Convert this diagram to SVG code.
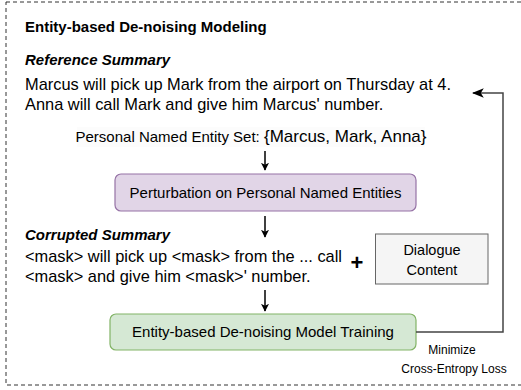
<svg xmlns="http://www.w3.org/2000/svg" width="521" height="390" viewBox="0 0 521 390">
<defs>
<style>
text{font-family:"Liberation Sans",Arial,sans-serif;fill:#000}
.t{font-size:16.4px}
.s{font-size:15px}
.h{font-size:15px;font-weight:bold}
.hi{font-size:15px;font-weight:bold;font-style:italic}
.c{text-anchor:middle}
.ln{fill:none;stroke:#000;stroke-width:1.5}
</style>
<marker id="ah" viewBox="0 0 10 10" refX="9" refY="5" markerWidth="8" markerHeight="8" markerUnits="userSpaceOnUse" orient="auto">
<path d="M0,0 L10,5 L0,10 L2.5,5 Z" fill="#000"/>
</marker>
<marker id="ah2" viewBox="0 0 10 10" refX="9" refY="5" markerWidth="12" markerHeight="12" markerUnits="userSpaceOnUse" orient="auto">
<path d="M0,1 L10,5 L0,9 L2.5,5 Z" fill="#000"/>
</marker>
</defs>
<rect x="6" y="2" width="525" height="383" fill="#fff" stroke="#333" stroke-width="1" stroke-dasharray="4 3"/>
<g id="title"><text class="h" x="25" y="32">Entity-based De-noising Modeling</text></g>
<g id="reference">
<text class="hi" x="25" y="65">Reference Summary</text>
<text class="t" x="25" y="90">Marcus will pick up Mark from the airport on Thursday at 4.</text>
<text class="t" x="25" y="110">Anna will call Mark and give him Marcus' number.</text>
</g>
<g id="entityset">
<rect x="77" y="127" width="348" height="20" fill="#fcfcfc"/>
<text x="251" y="142" class="c"><tspan font-size="15">Personal Named Entity Set: </tspan><tspan font-size="17">{Marcus, Mark, Anna}</tspan></text>
</g>
<g id="perturbation">
<rect x="115" y="174" width="301" height="37" rx="6" fill="#e1d5e7" stroke="#9673a6" stroke-width="1.2"/>
<text class="s c" x="265.5" y="198">Perturbation on Personal Named Entities</text>
</g>
<g id="corrupted">
<text class="hi" x="25" y="240">Corrupted Summary</text>
<text class="t" x="25" y="262">&lt;mask&gt; will pick up &lt;mask&gt; from the ... call</text>
<text class="t" x="25" y="282">&lt;mask&gt; and give him &lt;mask&gt;' number.</text>
</g>
<g id="plus"><text x="357" y="270" class="c" font-size="22" font-weight="bold">+</text></g>
<g id="dialogue">
<rect x="375.5" y="234" width="112.5" height="50" fill="#f5f5f5" stroke="#666" stroke-width="1"/>
<text class="c" font-size="14.5" x="432" y="255">Dialogue</text>
<text class="c" font-size="14.5" x="432" y="275">Content</text>
</g>
<g id="training">
<rect x="110" y="314" width="306" height="36" rx="6" fill="#d5e8d4" stroke="#82b366" stroke-width="1.2"/>
<text class="s c" x="263" y="337">Entity-based De-noising Model Training</text>
</g>
<g id="loss">
<text class="c" x="452" y="354" font-size="12">Minimize</text>
<text class="c" x="454" y="373" font-size="12">Cross-Entropy Loss</text>
</g>
<g id="connectors">
<line class="ln" x1="265" y1="151" x2="265" y2="170" marker-end="url(#ah)"/>
<line class="ln" x1="265" y1="216" x2="265" y2="237" marker-end="url(#ah)"/>
<line class="ln" x1="265" y1="290" x2="265" y2="311" marker-end="url(#ah)"/>
<polyline points="416,332 503,332 503,93 473,93" fill="none" stroke="#444" stroke-width="1.5" marker-end="url(#ah2)"/>
</g>
</svg>
